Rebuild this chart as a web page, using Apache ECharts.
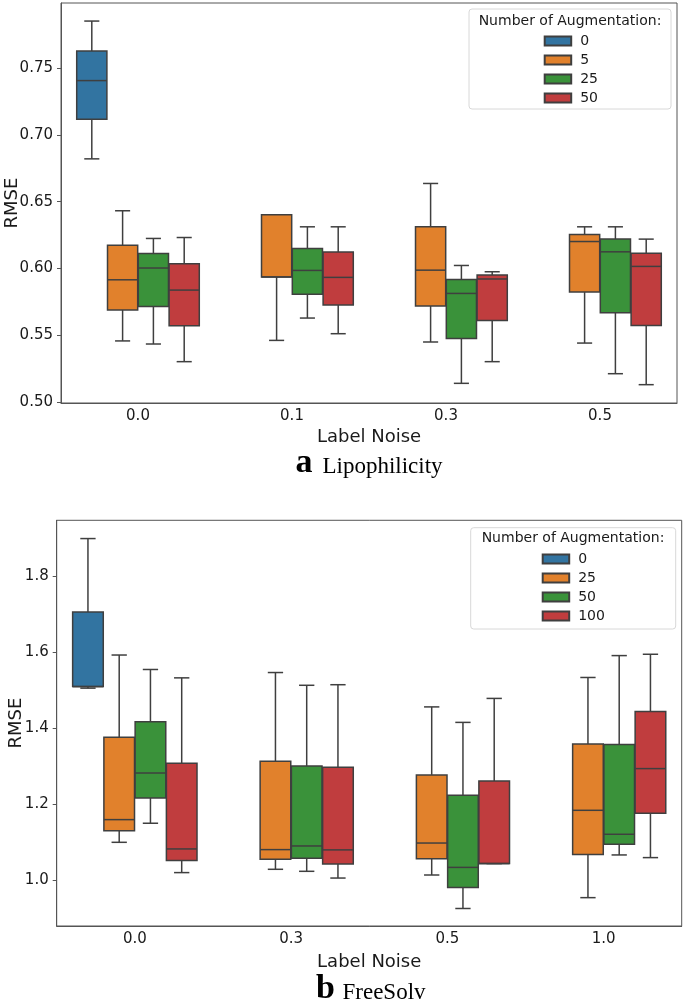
<!DOCTYPE html>
<html>
<head>
<meta charset="utf-8">
<script src="https://cdn.jsdelivr.net/npm/echarts@6/dist/echarts.min.js"></script>
<style>
  html, body { margin: 0; padding: 0; background: #fff; }
  #chart { width: 685px; height: 1006px; }
</style>
</head>
<body>
<div id="chart"></div>
<script>
// panel a: Lipophilicity
var catsA = ['0.0', '0.1', '0.3', '0.5'];
var huesA = ['0', '5', '25', '50'];
var ticksA = [0.50, 0.55, 0.60, 0.65, 0.70, 0.75];
// [min, q1, median, q3, max] per noise level, null = no box
var a0  = [[0.682, 0.7116, 0.7405, 0.7627, 0.785], null, null, null];
var a5  = [[0.5459, 0.569, 0.5916, 0.6175, 0.6432], [0.5463, 0.5937, 0.5937, 0.6402, 0.6402],
           [0.5451, 0.572, 0.5988, 0.6312, 0.6636], [0.5443, 0.5824, 0.6202, 0.6255, 0.6312]];
var a25 = [[0.5436, 0.5717, 0.6004, 0.6113, 0.6225], [0.563, 0.5807, 0.5986, 0.615, 0.6312],
           [0.5142, 0.5478, 0.5814, 0.5919, 0.6023], [0.5214, 0.567, 0.6125, 0.622, 0.6312]];
var a50 = [[0.5304, 0.5573, 0.5839, 0.6036, 0.6232], [0.5513, 0.5727, 0.5934, 0.6123, 0.6312],
           [0.5304, 0.5612, 0.5922, 0.5951, 0.5976], [0.5132, 0.5575, 0.6016, 0.6115, 0.622]];

// panel b: FreeSolv
var catsB = ['0.0', '0.3', '0.5', '1.0'];
var huesB = ['0', '25', '50', '100'];
var ticksB = [1.0, 1.2, 1.4, 1.6, 1.8];
var b0   = [[1.505, 1.509, 1.509, 1.705, 1.898], null, null, null];
var b25  = [[1.0999, 1.1306, 1.1595, 1.376, 1.592], [1.029, 1.0552, 1.0807, 1.313, 1.546],
            [1.014, 1.057, 1.098, 1.277, 1.4557], [0.9545, 1.068, 1.184, 1.3585, 1.533]];
var b50  = [[1.15, 1.2165, 1.282, 1.417, 1.554], [1.0237, 1.0578, 1.0903, 1.3006, 1.5125],
            [0.926, 0.981, 1.034, 1.2234, 1.415], [1.0667, 1.0946, 1.121, 1.3566, 1.5905]];
var b100 = [[1.0203, 1.0518, 1.0825, 1.3075, 1.532], [1.006, 1.043, 1.08, 1.297, 1.514],
            [1.044, 1.044, 1.044, 1.261, 1.478], [1.0597, 1.176, 1.2936, 1.4434, 1.594]];

var colors = ['#3274a1', '#e1812c', '#3a923a', '#c03d3e'];
var LINE = '#3f3f3f';
var FRAME = '#555';
var SANS = 'DejaVu Sans';
var SERIF = 'Liberation Serif';

function boxItem(params, api) {
  var cat = api.value(0);
  var hue = api.value(1);
  var band = api.size([1, 0])[0];
  var cx = api.coord([cat, api.value(4)])[0] + (hue - 1.5) * 0.2 * band;
  var w = 0.2 * band * 0.98;
  var y = [2, 3, 4, 5, 6].map(function (i) { return api.coord([cat, api.value(i)])[1]; });
  var ls = { stroke: LINE, lineWidth: 1.5 };
  return {
    type: 'group',
    children: [
      { type: 'line', shape: { x1: cx, y1: y[3], x2: cx, y2: y[4] }, style: ls },
      { type: 'line', shape: { x1: cx, y1: y[1], x2: cx, y2: y[0] }, style: ls },
      { type: 'line', shape: { x1: cx - w / 4, y1: y[4], x2: cx + w / 4, y2: y[4] }, style: ls },
      { type: 'line', shape: { x1: cx - w / 4, y1: y[0], x2: cx + w / 4, y2: y[0] }, style: ls },
      { type: 'rect', shape: { x: cx - w / 2, y: y[3], width: w, height: y[1] - y[3] },
        style: { fill: api.visual('color'), stroke: LINE, lineWidth: 1.5 } },
      { type: 'line', shape: { x1: cx - w / 2, y1: y[2], x2: cx + w / 2, y2: y[2] }, style: ls }
    ]
  };
}

function makeSeries(prefix, hues, groups, axisIdx) {
  return hues.map(function (h, hi) {
    var data = [];
    groups[hi].forEach(function (s, ci) {
      if (s) data.push([ci, hi].concat(s));
    });
    return {
      type: 'custom',
      name: prefix + ':' + h,
      xAxisIndex: axisIdx,
      yAxisIndex: axisIdx,
      renderItem: boxItem,
      itemStyle: { color: colors[hi], borderColor: LINE, borderWidth: 1 },
      encode: { x: 0, y: [2, 3, 4, 5, 6] },
      data: data
    };
  });
}

function xAxisFor(cats, idx, gap) {
  return {
    type: 'category', gridIndex: idx, data: cats, boundaryGap: true,
    name: 'Label Noise', nameLocation: 'middle', nameGap: gap, nameMoveOverlap: false,
    nameTextStyle: { fontFamily: SANS, fontSize: 18, color: '#1a1a1a' },
    axisLine: { lineStyle: { color: FRAME, width: 1 } },
    axisTick: { alignWithLabel: true, length: 4, lineStyle: { color: FRAME } },
    axisLabel: { fontFamily: SANS, fontSize: 15, color: '#1a1a1a', margin: 6 },
    splitLine: { show: false }
  };
}

function yAxisFor(ticks, idx, min, max, digits, gap) {
  return {
    type: 'value', gridIndex: idx, min: min, max: max,
    name: 'RMSE', nameLocation: 'middle', nameGap: gap, nameRotate: 90, nameMoveOverlap: false,
    nameTextStyle: { fontFamily: SANS, fontSize: 18, color: '#1a1a1a' },
    axisLine: { show: true, lineStyle: { color: FRAME, width: 1 } },
    axisTick: { show: true, length: 4, customValues: ticks, lineStyle: { color: FRAME } },
    axisLabel: {
      fontFamily: SANS, fontSize: 15, color: '#1a1a1a', margin: 8, customValues: ticks,
      formatter: function (v) { return v.toFixed(digits); }
    },
    splitLine: { show: false }
  };
}

function legendFor(prefix, hues, left, top) {
  return {
    data: hues.map(function (h) { return prefix + ':' + h; }),
    orient: 'vertical', left: left, top: top, padding: 0,
    itemWidth: 26.5, itemHeight: 9, itemGap: 5, icon: 'rect',
    selectedMode: false,
    formatter: function (n) { return n.split(':')[1]; },
    textStyle: { fontFamily: SANS, fontSize: 14, color: '#1a1a1a', padding: [0, 0, 0, 4] }
  };
}

function legendBox(x, y, w, h, cx, ty) {
  return [
    { type: 'rect', shape: { x: x, y: y, width: w, height: h, r: 3 },
      style: { fill: 'rgba(255,255,255,0.8)', stroke: '#d8d8d8', lineWidth: 1 } },
    { type: 'text', x: cx, y: ty,
      style: { text: 'Number of Augmentation:', fontFamily: SANS, fontSize: 14, fill: '#1a1a1a',
               align: 'center', verticalAlign: 'middle' } }
  ];
}

// panel caption: bold letter plus dataset name, placed by baseline
function caption(letter, word, xLetter, xWord, baseline) {
  return [
    { type: 'text', x: xLetter, y: baseline - 0.34 * 34,
      style: { text: letter, fontFamily: SERIF, fontWeight: 'bold', fontSize: 34, fill: '#000',
               align: 'left', verticalAlign: 'middle' } },
    { type: 'text', x: xWord, y: baseline - 0.34 * 23,
      style: { text: word, fontFamily: SERIF, fontSize: 23, fill: '#000',
               align: 'left', verticalAlign: 'middle' } }
  ];
}

var chart = echarts.init(document.getElementById('chart'), null, { renderer: 'canvas' });
chart.setOption({
  animation: false,
  backgroundColor: '#fff',
  grid: [
    { left: 61, top: 3, width: 616, height: 400, show: true, borderColor: FRAME, borderWidth: 1,
      outerBoundsMode: 'none', containLabel: false },
    { left: 56.7, top: 520.3, width: 625, height: 405.7, show: true, borderColor: FRAME, borderWidth: 1,
      outerBoundsMode: 'none', containLabel: false }
  ],
  xAxis: [xAxisFor(catsA, 0, 25), xAxisFor(catsB, 1, 27)],
  yAxis: [yAxisFor(ticksA, 0, 0.4995, 0.7985, 2, 40), yAxisFor(ticksB, 1, 0.880, 1.946, 1, 31)],
  legend: [legendFor('a', huesA, 543.7, 34), legendFor('b', huesB, 541.7, 552)],
  graphic: []
    .concat(legendBox(469, 9, 202, 100, 570, 21))
    .concat(legendBox(470.7, 527.7, 205, 101.3, 573, 538.3))
    .concat(caption('a', 'Lipophilicity', 295.5, 322.5, 474.5))
    .concat(caption('b', 'FreeSolv', 316, 342.5, 1000.5)),
  series: makeSeries('a', huesA, [a0, a5, a25, a50], 0)
    .concat(makeSeries('b', huesB, [b0, b25, b50, b100], 1))
});
</script>
</body>
</html>
